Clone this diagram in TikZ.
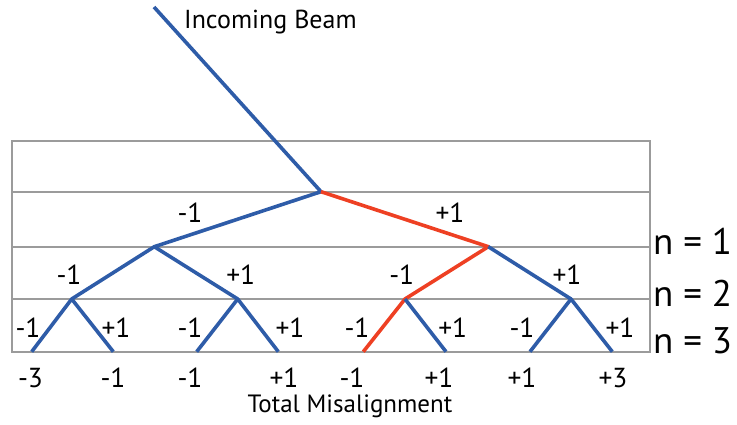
\documentclass[tikz,border=0pt]{standalone}
\usepackage{fontspec}
\setmainfont{PT Sans}
\definecolor{beamblue}{RGB}{46,92,168}
\definecolor{beamred}{RGB}{238,64,35}
\definecolor{framegray}{RGB}{155,155,155}
\begin{document}
\begin{tikzpicture}[x=1pt,y=-1pt,
  frame/.style={draw=framegray,line width=2.2pt},
  blueline/.style={draw=beamblue,line width=3.6pt,line join=round},
  redline/.style={draw=beamred,line width=3.6pt,line join=round},
  lab/.style={font=\fontsize{27.5}{27.5}\selectfont,inner sep=0pt},
  nlab/.style={font=\fontsize{37}{37}\selectfont,inner sep=0pt,anchor=west},
  tot/.style={font=\fontsize{25}{25}\selectfont,inner sep=0pt},
  beamtitle/.style={font=\fontsize{26}{26}\selectfont,inner sep=0pt}]
\useasboundingbox (0,0) rectangle (737,425);
% frame
\draw[frame] (12.3,141) rectangle (650,351.7);
\draw[frame] (12.3,191.7) -- (650,191.7);
\draw[frame] (12.3,246.7) -- (650,246.7);
\draw[frame] (12.3,299) -- (650,299);
% branch points
\coordinate (top) at (154,7);
\coordinate (r) at (321,191.7);
\coordinate (a) at (154.3,246.7);
\coordinate (b) at (488.3,246.7);
\coordinate (aa) at (71.7,299);
\coordinate (ab) at (237.7,299);
\coordinate (ba) at (405,299);
\coordinate (bbb) at (571,299);
\coordinate (l1) at (31.7,351.7);
\coordinate (l2) at (113.3,351.7);
\coordinate (l3) at (196.7,351.7);
\coordinate (l4) at (278.3,351.7);
\coordinate (l5) at (363.3,351.7);
\coordinate (l6) at (446,351.7);
\coordinate (l7) at (530,351.7);
\coordinate (l8) at (612.3,351.7);
% beams
\draw[blueline] (top) -- (r) -- (a);
\draw[blueline] (aa) -- (a) -- (ab);
\draw[blueline] (l1) -- (aa) -- (l2);
\draw[blueline] (l3) -- (ab) -- (l4);
\draw[redline] (r) -- (b) -- (ba) -- (l5);
\draw[blueline] (ba) -- (l6);
\draw[blueline] (b) -- (bbb);
\draw[blueline] (l7) -- (bbb) -- (l8);
% labels
\node[beamtitle,anchor=west] (inc) at (184,22) {Incoming Beam};
\node[lab] (m1) at (190,213) {-1};
\node[lab] (p1) at (450,213) {+1};
\node[lab] (m2a) at (69,275) {-1};
\node[lab] (p2a) at (240.7,275) {+1};
\node[lab] (m2b) at (401.7,275) {-1};
\node[lab] (p2b) at (567,275) {+1};
\node[lab] (m3a) at (28,328) {-1};
\node[lab] (p3a) at (116,328) {+1};
\node[lab] (m3b) at (190,328) {-1};
\node[lab] (p3b) at (290,328) {+1};
\node[lab] (m3c) at (357,328) {-1};
\node[lab] (p3c) at (452.7,328) {+1};
\node[lab] (m3d) at (522,328) {-1};
\node[lab] (p3d) at (620,328) {+1};
\node[nlab] (n1) at (653,241.7) {n = 1};
\node[nlab] (n2) at (653,293) {n = 2};
\node[nlab] (n3) at (653,341) {n = 3};
\node[lab] (t1) at (30.5,378) {-3};
\node[lab] (t2) at (113,378) {-1};
\node[lab] (t3) at (190,378) {-1};
\node[lab] (t4) at (284,378) {+1};
\node[lab] (t5) at (352,378) {-1};
\node[lab] (t6) at (439,378) {+1};
\node[lab] (t7) at (522,378) {+1};
\node[lab] (t8) at (613,378) {+3};
\node[tot] (tm) at (350,406) {Total Misalignment};
\end{tikzpicture}
\end{document}
